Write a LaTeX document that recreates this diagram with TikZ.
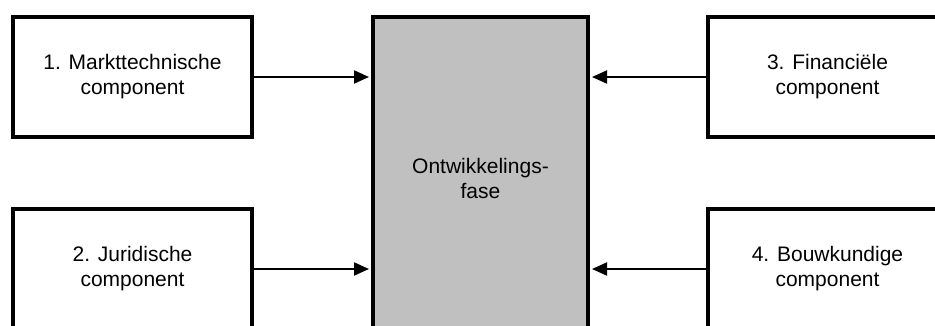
\documentclass[tikz,border=0pt]{standalone}
\usepackage{fontspec}
\setmainfont{Liberation Sans}
\usetikzlibrary{arrows.meta}
\begin{document}
\begin{tikzpicture}[x=1pt,y=-1pt,
  compbox/.style={draw=black, line width=4pt, fill=white, rectangle, inner sep=0pt,
    minimum width=239pt, minimum height=120pt, align=center,
    font=\fontsize{21}{25}\selectfont},
  phasebox/.style={draw=black, line width=4pt, fill={rgb,255:red,192;green,192;blue,192},
    rectangle, inner sep=0pt, minimum width=215pt, minimum height=323pt, align=center,
    font=\fontsize{21}{25}\selectfont},
  flow/.style={line width=2pt, -{Triangle[length=15pt,width=13pt]}, shorten >=2pt}]
\useasboundingbox (0,0) rectangle (935,325);
\clip (0,0) rectangle (935,325);
\node[phasebox] (c) at (480.5,178.5) {Ontwikkelings-\\fase};
\node[compbox] (m) at (132.5,77) {1. Markttechnische\\component};
\node[compbox] (j) at (132.5,269) {2. Juridische\\component};
\node[compbox] (f) at (827.5,77) {3. Financiële\\component};
\node[compbox] (b) at (827.5,269) {4. Bouwkundige\\component};
\draw[flow] (m.east) -- (m.east -| c.west);
\draw[flow] (j.east) -- (j.east -| c.west);
\draw[flow] (f.west) -- (f.west -| c.east);
\draw[flow] (b.west) -- (b.west -| c.east);
\end{tikzpicture}
\end{document}
